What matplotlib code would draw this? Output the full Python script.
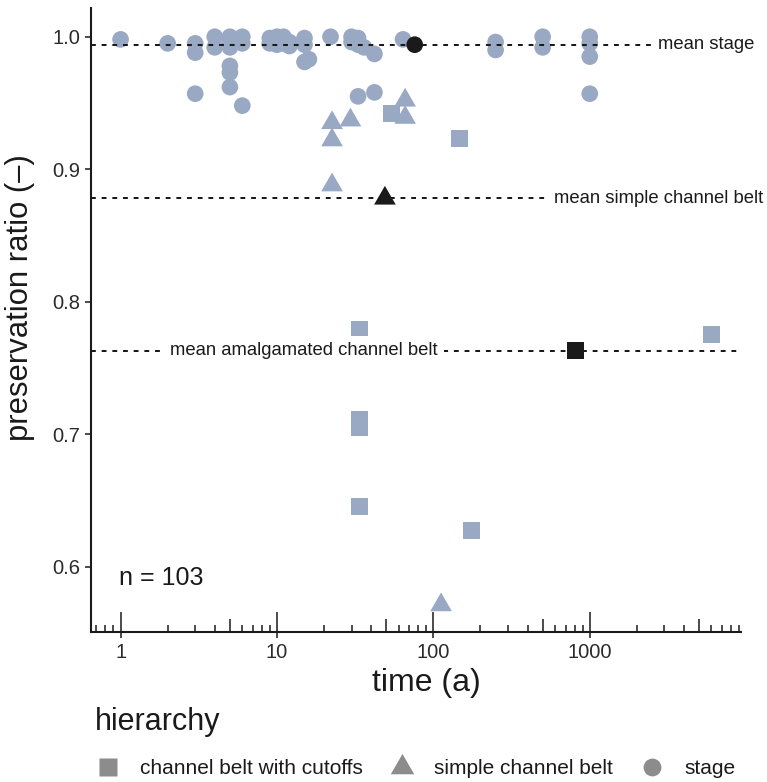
import matplotlib
matplotlib.use("Agg")
import matplotlib.pyplot as plt
from matplotlib.lines import Line2D
from matplotlib.path import Path
import numpy as np

plt.rcParams['font.family'] = ['Liberation Sans', 'DejaVu Sans']

# ---------------- data ----------------
stage_time = [1, 2, 3, 3, 3, 4, 4, 5, 5, 5, 5, 5, 5, 6, 6, 6,
              9, 9, 10, 10, 11, 11, 12, 12, 15, 15, 15, 16, 22,
              30, 30, 33, 33, 33, 36, 42, 42, 64,
              250, 250, 500, 500, 1000, 1000, 1000, 1000]
stage_ratio = [0.998, 0.995, 0.995, 0.988, 0.957, 1.000, 0.992, 1.000, 0.996, 0.992, 0.978, 0.973, 0.962,
               1.000, 0.995, 0.948,
               0.999, 0.995, 1.000, 0.994, 1.000, 0.995, 0.996, 0.993, 0.999, 0.994, 0.981, 0.983, 1.000,
               1.000, 0.996, 0.999, 0.994, 0.955, 0.992, 0.987, 0.958, 0.998,
               0.996, 0.990, 1.000, 0.992, 1.000, 0.995, 0.985, 0.957]

simple_time = [22.5, 22.5, 22.5, 29.5, 66, 66, 112]
simple_ratio = [0.935, 0.922, 0.888, 0.937, 0.952, 0.939, 0.571]

cutoff_time = [54, 146, 33.5, 33.5, 33.5, 33.5, 176, 6000]
cutoff_ratio = [0.942, 0.923, 0.779, 0.711, 0.705, 0.645, 0.627, 0.775]

# means (black markers and dashed lines)
mean_stage = (76, 0.994)
mean_simple = (49, 0.878)
mean_cutoff = (807, 0.763)

mean_labels = ["mean stage", "mean simple channel belt", "mean amalgamated channel belt"]
legend_labels = ["channel belt with cutoffs", "simple channel belt", "stage"]
x_ticks = [1, 10, 100, 1000]
x_ticklabels = ["1", "10", "100", "1000"]
y_ticks = [0.6, 0.7, 0.8, 0.9, 1.0]
y_ticklabels = ["0.6", "0.7", "0.8", "0.9", "1.0"]
n_label = "n = 103"

# ---------------- style ----------------
LIGHT = '#99A9C3'
DARK = '#1a1a1a'
TXT = '#1a1a1a'
W, H = 767, 782

tri = Path([(0, 0.577), (-0.5, -0.2887), (0.5, -0.2887), (0, 0.577)],
           [Path.MOVETO, Path.LINETO, Path.LINETO, Path.CLOSEPOLY])

fig = plt.figure(figsize=(W / 100, H / 100), dpi=100)
ax = fig.add_axes([91 / W, 1 - 632 / H, (741 - 91) / W, (632 - 8) / H])
ax.set_xscale('log')
ax.set_xlim(0.647, 9270)
ax.set_ylim(0.5506, 1.0217)

# light points
ax.scatter(stage_time, stage_ratio, s=144, marker='o', color=LIGHT, edgecolors='none', zorder=2)
ax.scatter(simple_time, simple_ratio, s=324, marker=tri, color=LIGHT, edgecolors='none', zorder=2)
ax.scatter(cutoff_time, cutoff_ratio, s=149, marker='s', color=LIGHT, edgecolors='none', zorder=2)

# dashed mean lines
dash = (0, (2.4, 2.9))
for m in (mean_stage, mean_simple, mean_cutoff):
    ax.axhline(m[1], color=DARK, lw=1.45, ls=dash, zorder=3)

# labels on lines
label_x = [5570, 2773, 14.9]
for (m, lab, lx) in zip((mean_stage, mean_simple, mean_cutoff), mean_labels, label_x):
    ax.text(lx, m[1], lab, ha='center', va='center', fontsize=13.3, color=TXT, zorder=4,
            bbox=dict(boxstyle='square,pad=0.35', fc='white', ec='none'), clip_on=False)

# black mean points
ax.scatter([mean_stage[0]], [mean_stage[1]], s=144, marker='o', color=DARK, edgecolors='none', zorder=5)
ax.scatter([mean_simple[0]], [mean_simple[1]], s=324, marker=tri, color=DARK, edgecolors='none', zorder=5)
ax.scatter([mean_cutoff[0]], [mean_cutoff[1]], s=149, marker='s', color=DARK, edgecolors='none', zorder=5)

# axes styling
for side in ('top', 'right'):
    ax.spines[side].set_visible(False)
for side in ('left', 'bottom'):
    ax.spines[side].set_linewidth(1.5)
    ax.spines[side].set_color(DARK)

ax.set_xticks(x_ticks)
ax.set_xticklabels(x_ticklabels)
ax.xaxis.set_minor_locator(matplotlib.ticker.NullLocator())
ax.set_yticks(y_ticks)
ax.set_yticklabels(y_ticklabels)
ax.tick_params(axis='both', which='major', direction='out', length=4.3, width=1.1,
               color=DARK, labelsize=14.5, labelcolor='#2b2b2b', pad=3.5)

# log ticks inside (annotation_logticks style)
axh = 632 - 8
trans = ax.get_xaxis_transform()
for dec in range(-1, 4):
    for k in range(1, 10):
        v = k * 10.0 ** dec
        if v < 0.647 or v > 9270:
            continue
        L = 20 if k == 1 else (13 if k == 5 else 7)
        ax.plot([v, v], [0, L / axh], transform=trans, color=DARK, lw=1.1,
                solid_capstyle='butt', clip_on=False, zorder=6)

# n label
ax.text(0.971, 0.591, n_label, ha='left', va='center', fontsize=18, color=TXT)

# axis titles
fig.text(20 / W, 1 - 298 / H, "preservation ratio (\u2013)", rotation=90, ha='center', va='center',
         fontsize=22.3, color=TXT)
fig.text(426 / W, 1 - 683 / H, "time (a)", ha='center', va='center', fontsize=23, color=TXT)

# legend
fig.text(95 / W, 1 - 722 / H, "hierarchy", ha='left', va='center', fontsize=22, color=TXT)
GREY = '#8c8c8c'
handles = [
    Line2D([], [], ls='none', marker='s', markersize=13, color=GREY, mec='none'),
    Line2D([], [], ls='none', marker=tri, markersize=19.5, color=GREY, mec='none'),
    Line2D([], [], ls='none', marker='o', markersize=12.8, color=GREY, mec='none'),
]
fig.legend(handles, legend_labels, ncol=3, loc='center left',
           bbox_to_anchor=(97.1 / W, 1 - 769 / H), frameon=False, fontsize=15,
           handlelength=1.0, handletextpad=1.05, columnspacing=1.37,
           borderpad=0, borderaxespad=0, labelcolor=TXT)

fig.savefig("out.png", dpi=100)
